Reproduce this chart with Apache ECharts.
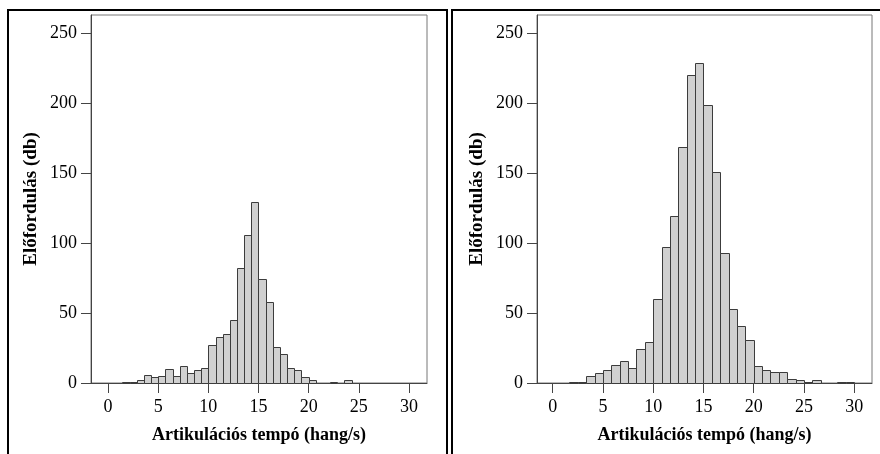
<!DOCTYPE html>
<html>
<head>
<meta charset="utf-8">
<script src="https://cdn.jsdelivr.net/npm/echarts@6/dist/echarts.min.js"></script>
<style>
html,body{margin:0;padding:0;background:#fff;}
#chart{width:880px;height:454px;}
</style>
</head>
<body>
<div id="chart"></div>
<script>
// ---- data ----
const xTickValues = [0, 5, 10, 15, 20, 25, 30];
const yTickInterval = 50;
const yLabel = 'Előfordulás (db)';
const xLabel = 'Artikulációs tempó (hang/s)';

// left histogram: bin width 5/7, first bin index 2
const leftBinWidth = 5 / 7;
const leftFirstBin = 2;
const leftCounts = [1,1,2,6,4,5,10,5,12,7,9,11,27,33,35,45,82,106,129,74,58,26,21,11,9,4,2,0,0,1,0,2];

// right histogram: bin width 5/6, first bin index 2
const rightBinWidth = 5 / 6;
const rightFirstBin = 2;
const rightCounts = [1,1,5,7,9,13,16,11,24,29,60,97,119,169,220,229,199,151,93,53,41,31,12,9,8,8,3,2,1,2,0,0,1,1];

function bins(counts, w, first) {
  return counts.map((c, i) => [(first + i) * w, (first + i + 1) * w, c]);
}

const FONT = 'Liberation Serif';

function renderBar(params, api) {
  const c = api.value(2);
  if (!c) return null;
  const p0 = api.coord([api.value(0), c]);
  const p1 = api.coord([api.value(1), 0]);
  const x0 = Math.round(p0[0]) + 0.5, x1 = Math.round(p1[0]) + 0.5;
  const y0 = Math.round(p0[1]) + 0.5, y1 = Math.round(p1[1]) + 0.5;
  return {
    type: 'rect',
    shape: { x: x0, y: y0, width: x1 - x0, height: y1 - y0 },
    style: { fill: '#d0d0d0', stroke: '#3c3c3c', lineWidth: 1 }
  };
}

function xAxisDef(gi, min, max) {
  return {
    type: 'value', gridIndex: gi, min: min, max: max,
    splitLine: { show: false },
    axisLine: { show: true, onZero: false, lineStyle: { color: '#444', width: 1 } },
    axisTick: { show: true, length: 10, customValues: xTickValues, lineStyle: { color: '#444' } },
    axisLabel: { customValues: xTickValues, margin: 15, color: '#000', fontFamily: FONT, fontSize: 18 },
    name: xLabel, nameLocation: 'middle', nameGap: 43,
    nameTextStyle: { fontFamily: FONT, fontWeight: 'bold', fontSize: 18, color: '#000' }
  };
}
function yAxisDef(gi) {
  return {
    type: 'value', gridIndex: gi, min: 0, max: 263, interval: yTickInterval,
    splitLine: { show: false },
    axisLine: { show: true, onZero: false, lineStyle: { color: '#444', width: 1 } },
    axisTick: { show: true, length: 10, lineStyle: { color: '#444' } },
    axisLabel: { margin: 14, color: '#000', fontFamily: FONT, fontSize: 18, showMaxLabel: false },
    name: yLabel, nameLocation: 'middle', nameGap: 50, nameRotate: 90,
    nameTextStyle: { fontFamily: FONT, fontWeight: 'bold', fontSize: 19, color: '#000' }
  };
}

const chart = echarts.init(document.getElementById('chart'), null, { renderer: 'canvas' });
chart.setOption({
  backgroundColor: '#fff',
  animation: false,
  grid: [
    { left: 91, top: 15, width: 336, height: 368, show: true, borderColor: '#777', borderWidth: 1, backgroundColor: '#fff' },
    { left: 537, top: 15, width: 335, height: 368, show: true, borderColor: '#777', borderWidth: 1, backgroundColor: '#fff' }
  ],
  xAxis: [xAxisDef(0, -1.7, 31.8), xAxisDef(1, -1.56, 31.77)],
  yAxis: [yAxisDef(0), yAxisDef(1)],
  series: [
    { type: 'custom', xAxisIndex: 0, yAxisIndex: 0, renderItem: renderBar,
      encode: { x: [0, 1], y: 2 }, data: bins(leftCounts, leftBinWidth, leftFirstBin) },
    { type: 'custom', xAxisIndex: 1, yAxisIndex: 1, renderItem: renderBar,
      encode: { x: [0, 1], y: 2 }, data: bins(rightCounts, rightBinWidth, rightFirstBin) }
  ],
  graphic: [
    { type: 'rect', shape: { x: 8, y: 10, width: 439, height: 470 }, style: { fill: null, stroke: '#000', lineWidth: 2 }, z: 100 },
    { type: 'rect', shape: { x: 452, y: 10, width: 440, height: 470 }, style: { fill: null, stroke: '#000', lineWidth: 2 }, z: 100 }
  ]
});
</script>
</body>
</html>
